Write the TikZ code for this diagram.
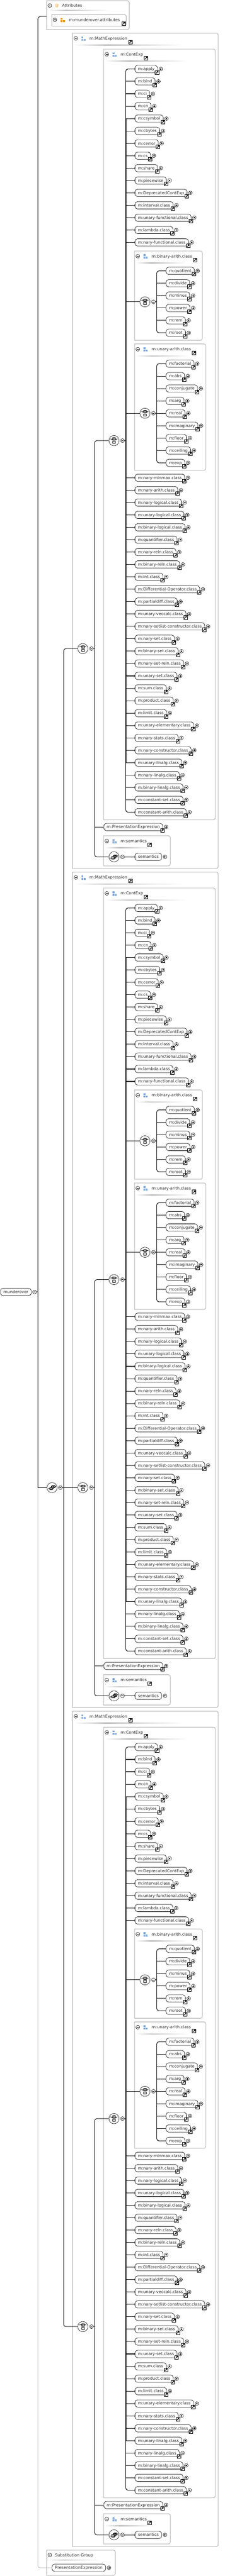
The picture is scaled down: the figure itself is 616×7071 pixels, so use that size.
\documentclass[tikz,border=0pt]{standalone}
\usepackage{fontspec}
\setmainfont{DejaVu Sans}
\usetikzlibrary{calc,shapes.misc}
\definecolor{panelgray}{HTML}{B0B0B0}
\definecolor{groupblue}{HTML}{7EA9DE}
\definecolor{attrorange}{HTML}{E59A1C}
\definecolor{inktext}{HTML}{2A2A2A}
\pgfdeclarehorizontalshading{fadebar}{100bp}{color(0bp)=(white); color(25bp)=(white); color(40bp)=(black!25); color(75bp)=(white); color(100bp)=(white)}
\tikzstyle{elem}       = [rectangle,
                          draw,
                          fill=white,
                          anchor=west,
                          rounded corners=7pt,
                          line width=.9pt,
                          minimum height=20pt,
                          inner xsep=8.2pt,
                          inner ysep=0pt,
                          text=inktext,
                          text height=8pt,
                          text depth=0pt,
                          font=\fontsize{11.15}{13}\selectfont]
\tikzstyle{title}      = [anchor=west,
                          inner sep=0pt,
                          text=inktext,
                          text height=8pt,
                          text depth=0pt,
                          font=\fontsize{11.15}{13}\selectfont]
\tikzstyle{panelnode}  = [rectangle, anchor=north west, inner sep=0pt, outer sep=0pt]
\tikzstyle{panelline}  = [draw=panelgray, line width=1.4pt]
\tikzstyle{link}       = [draw, line width=1.5pt, black!90]
\tikzstyle{midlink}    = [draw, line width=2.2pt, black]
\tikzstyle{thicklink}  = [draw, line width=3pt, black]
\tikzstyle{greylink}   = [draw, line width=1pt, panelgray]
\tikzstyle{minusmark}  = [circle, draw, fill=white, minimum size=10.4pt, inner sep=0pt, line width=.8pt,
  path picture={\draw[line width=.7pt] ([xshift=-2.6pt]path picture bounding box.center) -- ([xshift=2.6pt]path picture bounding box.center);}]
\tikzstyle{plusmark}   = [circle, draw, fill=white, minimum size=10pt, inner sep=0pt, line width=.8pt,
  path picture={\draw[line width=.7pt] ([xshift=-2.5pt]path picture bounding box.center) -- ([xshift=2.5pt]path picture bounding box.center)
    ([yshift=-2.5pt]path picture bounding box.center) -- ([yshift=2.5pt]path picture bounding box.center);}]
\tikzstyle{jumpbox}    = [rectangle, draw, fill=white, minimum size=10pt, inner sep=0pt, line width=.9pt,
  path picture={\coordinate (c) at (path picture bounding box.center);
    \draw[line width=1.5pt] ($(c)+(-3pt,-3pt)$) -- ($(c)+(1.5pt,1.5pt)$);
    \fill[black] ($(c)+(3.6pt,3.6pt)$) -- ($(c)+(-1pt,3.6pt)$) -- ($(c)+(3.6pt,-1pt)$) -- cycle;}]
\tikzstyle{choicecirc} = [circle, draw, fill=white, minimum size=28pt, inner sep=0pt, line width=.8pt,
  path picture={\coordinate (c) at (path picture bounding box.center);
    \draw[line width=.8pt] ($(c)+(-8.5pt,4.6pt)$) -- ($(c)+(8.5pt,4.6pt)$);
    \fill[black] ($(c)+(-8.5pt,4.6pt)$) circle (1.1pt) ($(c)+(8.5pt,4.6pt)$) circle (1.1pt);
    \draw[line width=.6pt,fill=black!40] ($(c)+(-3.2pt,7.8pt)$) rectangle ($(c)+(3.2pt,1.4pt)$);
    \draw[line width=.7pt,fill=white] ($(c)+(-3.2pt,-1.2pt)$) rectangle ($(c)+(3.2pt,-7.6pt)$);}]
\tikzstyle{stackcirc}  = [circle, draw, fill=white, minimum size=28pt, inner sep=0pt, line width=.8pt,
  path picture={\coordinate (c) at (path picture bounding box.center);
    \draw[line width=.8pt] ($(c)+(-10pt,-3pt)$) -- ($(c)+(-5pt,-3pt)$);
    \draw[line width=.8pt] ($(c)+(6pt,3pt)$) -- ($(c)+(10.5pt,3pt)$);
    \fill[black] ($(c)+(-10pt,-3pt)$) circle (1.1pt) ($(c)+(10.5pt,3pt)$) circle (1.1pt);
    \draw[line width=.6pt,fill=black!40] ($(c)+(.7pt,-.2pt)$) rectangle ($(c)+(7.1pt,6.2pt)$);
    \draw[line width=.6pt,fill=black!40] ($(c)+(-2.4pt,-2.4pt)$) rectangle ($(c)+(4pt,4pt)$);
    \draw[line width=.6pt,fill=black!40] ($(c)+(-6pt,-5.5pt)$) rectangle ($(c)+(.4pt,.9pt)$);}]

\newcommand{\contfirst}{m:apply,m:bind,m:ci,m:cn,m:csymbol,m:cbytes,m:cerror,m:cs,m:share,m:piecewise,m:DeprecatedContExp,m:interval.class,m:unary-functional.class,m:lambda.class,m:nary-functional.class}
\newcommand{\contrest}{m:nary-minmax.class,m:nary-arith.class,m:nary-logical.class,m:unary-logical.class,m:binary-logical.class,m:quantifier.class,m:nary-reln.class,m:binary-reln.class,m:int.class,m:Differential-Operator.class,m:partialdiff.class,m:unary-veccalc.class,m:nary-setlist-constructor.class,m:nary-set.class,m:binary-set.class,m:nary-set-reln.class,m:unary-set.class,m:sum.class,m:product.class,m:limit.class,m:unary-elementary.class,m:nary-stats.class,m:nary-constructor.class,m:unary-linalg.class,m:nary-linalg.class,m:binary-linalg.class,m:constant-set.class,m:constant-arith.class}
\newcommand{\binlist}{m:quotient,m:divide,m:minus,m:power,m:rem,m:root}
\newcommand{\unlist}{m:factorial,m:abs,m:conjugate,m:arg,m:real,m:imaginary,m:floor,m:ceiling,m:exp}

% Element with jump box and plus mark:
\newcommand{\refelem}[3]{%
  \node (#1) [elem] at #2 {#3};
  \node (#1-jump) [jumpbox] at ([xshift=-1.6pt,yshift=-9.2pt]#1.east) {};
  \node (#1-plus) [plusmark] at ([xshift=8.6pt]#1.east) {};
}
% Panel frame, rounded on the right only:
\newcommand{\panelframe}[5]{%
  \node (#1) [panelnode, minimum width=#4pt, minimum height=#5pt] at (#2,#3) {};
  \draw[panelline] (#1.north west) [rounded corners=5pt] -- (#1.north east) -- (#1.south east) [sharp corners] -- (#1.south west) -- cycle;
}
% Panel header: minus mark and fading rule:
\newcommand{\panelhead}[4]{%
  \node (#1-minus) [minusmark] at ([xshift=8.7pt,yshift=-#2pt]#1.north west) {};
  \shade[shading=fadebar] ([xshift=3pt,yshift=-#3pt]#1.north west) rectangle ++(#4,2);
}
\newcommand{\typepanel}[7]{%
  \panelframe{#1}{#2}{#3}{#4}{#5}
  \panelhead{#1}{14.5}{32}{#7}
  \node (#1-icon) [groupicon=groupblue] at ([xshift=30pt,yshift=-15pt]#1.north west) {};
  \node (#1-title) [title] at ([xshift=46.5pt,yshift=-14.5pt]#1.north west) {#6};
  \node (#1-jump) [jumpbox] at ([xshift=8pt,yshift=-10pt]#1-title.east) {};
}
% Choice circle with its list of elements:
\newcommand{\choicegroup}[5]{%
  \node (#1-choice) [choicecirc] at (397.2,#2) {};
  \node (#1-cminus) [minusmark] at (420.4,#2) {};
  \coordinate (#1-hub) at (429.5,#2);
  \foreach \lbl [count=\i] in #4 {
    \refelem{#1-\i}{(454.6,{#3+34*(\i-1)})}{\lbl}
    \ifnum\i>1 \ifnum\i<#5
      \draw[link] (#1-\i.west) -- (#1-\i.west -| #1-hub);
    \fi\fi
  }
  \draw[link, rounded corners=6pt] (#1-1.west) -| (#1-hub) |- (#1-#5.west);
  \draw[link] (#1-cminus.east) -- (#1-hub);
}

\begin{document}
\begin{tikzpicture}[%
  x=1pt,
  y=-1pt,
  % Three small squares of a group:
  groupicon/.style={%
    minimum size=12pt,
    inner sep=0pt,
    path picture={%
      \coordinate (c) at (path picture bounding box.center);
      \fill[#1] ($(c)+(-6pt,6pt)$) rectangle ($(c)+(-.7pt,.7pt)$);
      \fill[#1] ($(c)+(-6pt,-1pt)$) rectangle ($(c)+(-.7pt,-6pt)$);
      \fill[#1] ($(c)+(.7pt,-1pt)$) rectangle ($(c)+(6pt,-6pt)$);
    }
  }
  ]
  \useasboundingbox (0,0) rectangle (616,7071);

  % Attributes:
  \panelframe{attrs}{127.7}{2}{226.3}{79}
  \panelhead{attrs}{13.3}{25.7}{168}
  \node (attrs-at) [title, text=attrorange, anchor=center] at (156,15.3) {@};
  \node (attrs-title) [title] at (170,15.3) {Attributes};
  \panelframe{attrgroup}{141.8}{40}{204.2}{32}
  \node (attrgroup-plus) [plusmark] at (150.5,54.3) {};
  \node (attrgroup-icon) [groupicon=attrorange] at (172,54.8) {};
  \node (attrgroup-title) [title] at (188.6,54.3) {m:munderover.attributes};
  \node (attrgroup-jump) [jumpbox] at (338.7,64.3) {};

  % The three expression groups:
  \foreach \g/\dy in {one/0,two/2303,three/4606} {
    \begin{scope}[shift={(0,\dy)}]
      % Nodes:
      \typepanel{\g-math}{199}{91}{399}{2293}{m:MathExpression}{300}
      \typepanel{\g-cont}{284}{134.7}{306}{2115.3}{m:ContExp}{228}
      \typepanel{\g-bin}{369}{688.8}{185.4}{245.2}{m:binary-arith.class}{139}
      \typepanel{\g-un}{369}{944}{195}{347}{m:unary-arith.class}{147}
      \typepanel{\g-sem}{284}{2294}{182.8}{83}{m:semantics}{137}

      \node (\g-upper) [choicecirc] at (227,1780.4) {};
      \node (\g-upper-minus) [minusmark] at (250.7,1780.4) {};
      \coordinate (\g-upper-hub) at (259.3,1780.4);

      \node (\g-choice) [choicecirc] at (312.4,1209.4) {};
      \node (\g-choice-minus) [minusmark] at (335.6,1209.4) {};
      \coordinate (\g-hub) at (344.6,1209.4);

      \foreach \lbl [count=\i] in \contfirst {
        \refelem{\g-a\i}{(369.4,{189.4+34*(\i-1)})}{\lbl}
        \ifnum\i>1
          \draw[link] (\g-a\i.west) -- (\g-a\i.west -| \g-hub);
        \fi
      }
      \foreach \lbl [count=\i] in \contrest {
        \refelem{\g-b\i}{(369.4,{1311.4+34*(\i-1)})}{\lbl}
        \ifnum\i<28
          \draw[link] (\g-b\i.west) -- (\g-b\i.west -| \g-hub);
        \fi
      }
      \choicegroup{\g-binc}{828.5}{743.5}{\binlist}{6}
      \choicegroup{\g-unc}{1134.4}{998.4}{\unlist}{9}

      \refelem{\g-pres}{(284,2270)}{m:PresentationExpression}
      \node (\g-stack) [stackcirc] at (312.4,2352) {};
      \node (\g-stack-minus) [minusmark] at (335.6,2352) {};
      \node (\g-semantics) [elem] at (369.4,2352) {semantics};
      \node (\g-semantics-plus) [plusmark] at ([xshift=8.6pt]\g-semantics.east) {};

      % Connectors:
      \draw[link, rounded corners=6pt] (\g-a1.west) -| (\g-hub) |- (\g-b28.west);
      \draw[midlink] (\g-a2.west -| \g-hub) -- (\g-b27.west -| \g-hub);
      \draw[thicklink] (\g-a5.west -| \g-hub) -- (\g-b24.west -| \g-hub);
      \draw[link] (\g-choice-minus.east) -- (\g-hub);
      \draw[link] (\g-binc-choice.west) -- (\g-binc-choice.west -| \g-hub);
      \draw[link] (\g-unc-choice.west) -- (\g-unc-choice.west -| \g-hub);
      \draw[link, rounded corners=6pt] (\g-choice.west) -| (\g-upper-hub) |- (\g-stack.west);
      \draw[link] (\g-pres.west) -- (\g-pres.west -| \g-upper-hub);
      \draw[link] (\g-upper-minus.east) -- (\g-upper-hub);
      \draw[link] (\g-stack-minus.east) -- (\g-semantics.west);
    \end{scope}
  }

  % Substitution group:
  \panelframe{subst}{127.7}{7000}{188.3}{69.3}
  \panelhead{subst}{13.3}{25.7}{142}
  \node (subst-title) [title] at (150.5,7013.3) {Substitution Group};
  \node (subst-child) [elem] at (142.2,7048.3) {PresentationExpression};
  \node (subst-plus) [plusmark] at ([xshift=8.6pt]subst-child.east) {};

  % Root:
  \node (root) [elem] at (.8,3546.4) {munderover};
  \node (root-minus) [minusmark] at (94.7,3546.4) {};
  \coordinate (root-hub) at (103.7,3546.4);
  \node (outer) [stackcirc] at (142.6,4083.4) {};
  \node (outer-minus) [minusmark] at (165.4,4083.4) {};
  \coordinate (outer-hub) at (174.5,4083.4);

  % Connectors:
  \draw[greylink, rounded corners=6pt] (root-hub |- outer.west) |- (subst-child.west);
  \draw[link, rounded corners=7pt] ([yshift=-3.7pt]attrs.west) -| (root-hub);
  \draw[link] (root-hub) |- (outer.west);
  \draw[link] (root-minus.east) -- (root-hub);
  \draw[link] (outer-minus.east) -- (outer-hub);
  \draw[link, rounded corners=6pt] (one-upper.west) -| (outer-hub) |- (three-upper.west);
  \draw[link] (two-upper.west) -- (two-upper.west -| outer-hub);
\end{tikzpicture}
\end{document}
